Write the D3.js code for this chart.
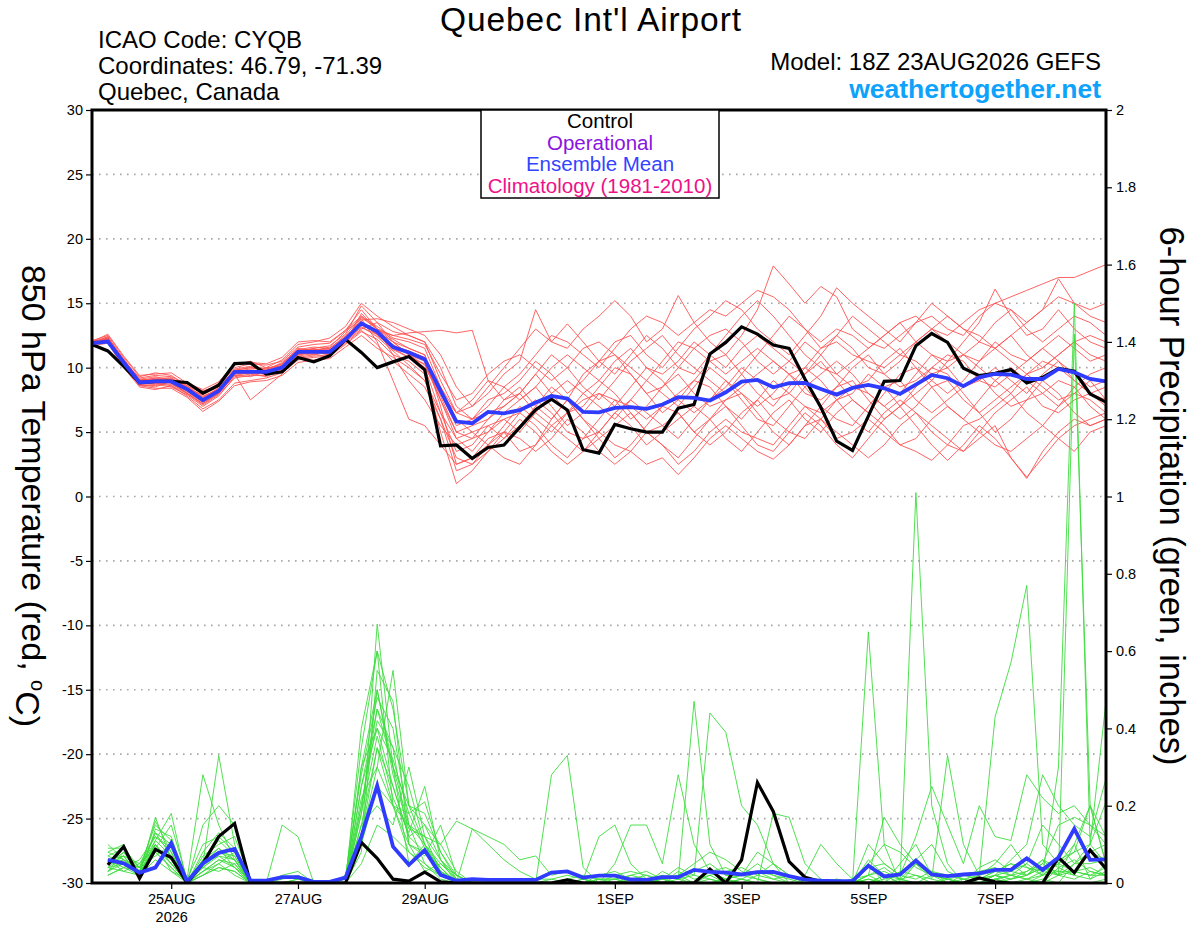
<!DOCTYPE html>
<html><head><meta charset="utf-8">
<script src="https://cdn.jsdelivr.net/npm/d3@7"></script>
<style>
body{margin:0;background:#fff}
svg{display:block}
text{font-family:"Liberation Sans",Arial,Helvetica,sans-serif}
</style>
</head><body>
<svg id="chart" width="1200" height="927"></svg>
<script>
// ---------------- DATA ----------------
const runStart = "2026-08-23T18:00:00Z";
const forecastHours = d3.range(0, 385, 6);          // 0..384 h, temperature times
const precipHours = d3.range(6, 385, 6);            // 6..384 h, 6-h precip accumulation ends

const tempTicks = [30,25,20,15,10,5,0,-5,-10,-15,-20,-25,-30];
const precipTicks = [0,0.2,0.4,0.6,0.8,1,1.2,1.4,1.6,1.8,2];
const gridValues = [25,20,15,10,5,0,-5,-10,-15,-20,-25];
const dateTicks = ["2026-08-25","2026-08-27","2026-08-29","2026-09-01","2026-09-03","2026-09-05","2026-09-07"];
const dateLabels = ["25AUG","27AUG","29AUG","1SEP","3SEP","5SEP","7SEP"];
const legendItems = ["Control","Operational","Ensemble Mean","Climatology (1981-2010)"];

const controlTemp = [11.8,11.3,10.1,8.85,8.93,8.93,8.85,8.02, 8.64,10.32,10.37,9.5,9.68,10.79,10.45,10.92,
 12.2,11.18,10.01,10.45,10.87,9.83,3.94,4.0, 2.96,3.81,4.0,5.36,6.73,7.56,6.71,3.63,
 3.37,5.59,5.26,5.0,5.0,6.86,7.14,11.06, 11.96,13.17,12.6,11.75,11.5,9.12,6.93,4.3,
 3.58,6.24,8.94,9.0,11.7,12.65,11.96,9.95, 9.38,9.56,9.85,8.82,9.25,9.95,9.72,7.96, 7.32];

const meanTemp = [11.9,12.03,10.4,8.85,8.93,8.93,8.33,7.48, 8.2,9.68,9.68,9.68,10.01,11.23,11.23,11.23,
 12.2,13.45,12.8,11.6,11.18,10.66,8.2,5.82, 5.69,6.57,6.46,6.7,7.29,7.81,7.6,6.57,
 6.53,6.88,6.93,6.8,7.14,7.71,7.66,7.45, 8.09,8.92,9.05,8.48,8.79,8.82,8.35,7.91,
 8.43,8.66,8.4,7.96,8.69,9.43,9.18,8.56, 9.25,9.51,9.46,9.12,9.12,9.9,9.64,9.12, 8.94];

const memberTemps = [
[12.0,12.4,10.6,9.0,9.2,8.8,8.0,7.2, 8.0,9.5,9.8,9.6,10.2,11.0,11.5,11.0, 12.0,14.2,13.0,12.5,12.7,12.8,12.9,12.7, 12.9,9.0,7.5,8.0,9.5,8.0,6.5,7.0, 8.5,10.0,9.5,8.0,6.5,7.5,9.0,10.5, 11.0,9.5,8.0,7.0,8.5,10.0,9.0,7.5, 8.0,9.5,8.5,7.0,8.0,9.0,10.5,11.0, 10.0,9.0,8.0,9.5,10.5,10.0,9.0,8.0, 7.5],
[11.8,12.2,10.2,8.7,8.5,9.0,8.5,7.8, 8.3,9.8,10.0,9.9,10.3,11.5,11.3,11.6, 12.8,13.8,12.0,9.0,6.0,5.5,4.0,2.5, 3.0,4.5,5.0,3.5,4.0,6.0,7.5,6.0, 4.5,3.0,4.0,5.5,7.0,6.5,5.0,6.0, 7.5,8.0,6.5,5.0,4.0,5.5,7.0,8.5, 9.0,7.5,6.0,7.0,8.5,10.0,9.5,8.0, 6.5,5.0,6.0,7.5,8.0,9.0,8.5,7.0, 6.0],
[12.1,12.5,10.8,9.3,9.6,9.4,8.6,8.0, 8.8,10.2,10.5,10.0,10.6,11.8,12.0,12.3, 13.2,15.0,14.0,13.2,12.5,12.0,9.0,6.5, 7.0,8.5,10.0,11.5,13.0,12.0,11.5,13.0, 14.0,15.2,14.0,12.0,13.0,15.6,13.5,12.0, 11.0,12.5,14.5,17.9,16.5,15.0,16.3,15.5, 13.0,12.0,11.5,12.5,13.5,14.0,13.0,12.5, 14.0,15.0,14.5,13.5,14.5,15.5,15.0,14.5, 15.0],
[11.7,11.9,10.0,8.5,8.3,8.6,7.8,6.8, 7.5,8.8,9.0,9.2,9.6,10.6,10.8,10.9, 11.8,12.8,12.2,11.0,10.5,9.5,5.0,1.0, 2.0,3.5,5.0,6.5,5.5,4.0,3.0,4.5, 5.0,4.0,3.5,2.5,3.0,1.7,3.0,4.5, 5.5,4.5,3.5,2.9,4.0,5.5,6.0,5.0, 4.0,3.0,4.0,5.5,6.5,5.0,4.0,3.5, 4.5,5.5,3.0,1.5,3.0,4.5,5.5,6.0, 6.5],
[12.0,12.2,10.5,8.9,9.0,9.1,8.3,7.5, 8.1,9.6,9.6,9.5,9.9,11.0,11.2,11.0, 12.0,13.0,13.5,12.0,11.0,10.5,7.5,5.0, 5.5,6.0,7.5,8.5,7.0,6.0,7.5,9.5, 10.5,11.0,9.5,8.0,8.5,10.0,11.5,12.5, 13.0,12.0,10.5,9.5,10.5,12.0,11.0,9.5, 8.5,9.0,10.5,11.5,10.0,9.0,8.0,9.0, 10.5,11.5,12.5,11.0,10.0,11.0,12.0,11.0, 10.5],
[11.9,12.1,10.3,8.8,8.8,8.7,8.1,7.3, 8.0,9.4,9.3,9.7,10.1,11.3,11.0,11.3, 12.4,13.6,12.5,11.5,10.8,10.0,6.5,3.5, 4.0,5.5,6.0,5.0,6.5,8.0,9.0,8.0, 7.0,6.0,7.5,9.0,8.0,7.0,8.5,10.0, 9.0,7.5,6.0,5.5,7.0,8.5,9.5,10.5, 9.5,8.0,7.0,8.0,9.5,11.0,10.0,8.5, 9.0,10.0,9.0,8.0,9.5,10.5,9.5,8.5, 9.0],
[11.8,12.3,10.4,9.1,9.3,9.0,8.4,7.7, 8.4,9.9,10.1,9.8,10.4,11.4,11.6,11.5, 12.5,14.0,13.2,12.3,12.0,11.5,8.5,6.0, 5.0,4.0,5.5,7.0,6.0,5.0,6.5,8.0, 9.0,8.0,6.5,5.0,5.5,6.5,5.0,4.0, 5.0,6.5,7.5,6.0,5.0,4.5,6.0,7.5, 6.0,5.0,6.5,7.5,6.5,5.5,4.5,3.5, 5.0,6.5,7.5,8.5,7.0,6.5,7.5,8.0, 7.0],
[12.0,12.0,10.6,9.2,9.4,9.3,8.7,8.2, 8.6,10.0,10.3,10.2,10.5,11.6,11.8,11.9, 12.9,14.5,13.0,11.0,9.0,7.5,5.5,4.0, 4.5,6.0,7.0,8.0,9.5,11.0,10.0,8.5, 7.5,9.0,10.5,11.5,12.5,11.0,10.0,9.0, 8.0,9.5,11.0,12.5,14.0,13.0,11.5,12.5, 14.0,13.0,12.0,11.0,12.0,13.0,14.0,13.0, 12.0,13.5,14.5,13.0,12.0,13.0,14.0,13.5, 12.5],
[11.9,12.2,10.1,8.6,8.7,8.5,7.9,7.0, 7.8,9.3,9.5,9.3,9.8,10.9,11.1,11.2, 12.1,13.3,12.8,12.0,11.5,11.0,7.0,2.5, 3.0,4.0,3.0,2.5,4.0,5.5,4.5,3.5, 5.0,6.5,5.5,4.0,5.0,6.0,7.0,6.0, 4.5,3.5,5.0,6.5,7.5,6.0,5.0,6.5, 7.5,6.5,5.5,4.0,3.5,2.8,4.0,5.5, 6.0,7.0,8.0,6.5,5.5,7.0,8.0,7.5, 6.5],
[12.0,12.3,10.7,9.0,9.1,9.2,8.5,7.6, 8.3,9.7,9.9,10.0,10.1,11.1,11.4,11.4, 12.3,13.7,13.8,13.5,13.0,12.5,11.0,8.5, 7.0,8.0,9.5,10.5,14.5,12.0,13.4,12.0, 10.5,9.5,11.0,12.5,11.5,10.0,9.5,11.0, 12.5,14.0,15.2,14.0,12.5,11.0,10.0,9.5, 10.5,11.5,12.5,13.5,12.0,11.0,10.5,12.0, 13.5,16.1,14.0,12.5,13.0,14.5,13.0,12.0, 11.5],
[11.8,12.1,10.4,8.8,8.9,8.8,8.2,7.4, 8.1,9.5,7.5,8.5,9.5,10.8,11.0,11.2, 12.2,13.1,12.6,11.8,11.0,10.2,7.5,4.5, 3.5,5.0,6.5,7.5,8.5,7.0,5.5,6.5, 8.0,7.0,8.5,10.0,9.0,7.5,6.5,7.5, 8.5,10.0,9.0,7.5,8.0,9.5,10.5,9.0, 7.5,6.5,8.0,9.5,10.0,8.5,7.0,6.0, 7.5,9.0,10.0,9.0,8.0,7.0,8.5,9.5, 10.0],
[12.1,12.0,10.3,8.9,9.2,9.2,8.4,7.9, 8.5,9.8,10.0,9.9,10.3,11.3,11.5,11.7, 12.6,14.8,13.5,12.8,12.5,12.0,10.0,7.0, 6.0,7.5,8.0,9.0,10.5,9.5,8.0,9.0, 10.5,12.0,12.5,11.0,10.0,11.5,13.0,14.0, 15.2,14.5,13.0,12.0,11.0,12.5,14.0,16.2, 15.0,14.0,13.0,12.0,13.5,15.0,14.0,13.0, 12.5,11.5,12.5,13.5,14.5,16.9,15.0,14.0, 13.5],
[11.9,12.4,10.5,8.7,8.6,8.9,8.0,7.1, 7.9,9.2,9.4,9.4,9.7,10.7,10.9,11.0, 11.9,12.9,11.8,10.5,9.5,8.5,6.0,3.0, 2.5,3.5,4.5,6.0,5.0,3.5,2.5,3.5, 4.5,5.5,6.5,5.0,4.0,3.0,4.5,6.0, 7.0,5.5,4.0,3.5,5.0,6.5,5.5,4.0, 3.0,4.5,6.0,7.0,5.5,4.0,2.8,4.0, 5.5,4.5,3.0,1.4,3.5,5.0,6.0,5.5, 6.0],
[12.0,12.6,10.9,9.4,9.5,9.6,8.8,8.3, 8.9,10.3,10.4,10.3,10.8,12.0,12.1,12.0, 12.9,14.0,13.0,12.0,11.0,10.0,8.0,6.5, 7.5,9.0,8.5,7.5,8.5,10.0,11.0,10.0, 9.0,10.5,11.5,10.0,9.5,10.5,12.0,11.0, 10.0,11.5,12.5,11.5,10.5,9.5,11.0,12.5, 11.5,10.0,9.5,10.5,12.0,13.0,12.0,11.0, 10.5,12.0,11.0,10.5,11.5,12.5,11.5,10.5, 11.0],
[11.8,12.0,10.2,8.6,8.4,8.4,7.7,6.6, 7.4,8.6,8.9,9.0,9.4,10.4,10.6,10.7, 11.6,12.5,11.5,10.8,10.0,9.0,6.5,4.5, 5.0,5.5,4.5,5.5,7.0,8.5,7.5,6.0, 5.0,6.5,7.5,6.5,5.5,4.5,6.0,7.5, 9.0,8.0,7.0,8.0,9.5,8.5,7.0,6.0, 5.5,7.0,8.5,9.0,7.5,6.5,7.5,8.5, 9.5,8.0,7.0,7.5,9.0,8.0,6.5,5.5, 6.0],
[12.0,12.2,10.6,9.1,9.0,9.1,8.6,7.7, 8.4,9.6,9.8,9.8,10.2,11.4,11.4,11.5, 12.4,13.5,12.9,12.5,12.2,11.8,9.5,7.5, 8.0,9.5,10.5,11.0,10.0,9.0,10.0,11.5, 12.0,11.0,10.0,9.0,10.5,12.0,11.5,10.5, 9.5,10.5,11.5,10.5,9.5,10.0,11.5,12.0, 11.0,10.5,10.0,11.0,10.5,9.5,10.0,11.0, 12.0,11.5,10.5,9.5,10.0,11.0,12.0,12.5, 12.0],
[11.9,12.3,10.5,9.0,8.9,9.0,8.2,7.4, 8.2,9.6,9.6,9.6,10.0,11.2,11.3,11.2, 12.2,13.9,13.0,12.2,11.5,11.0,8.0,5.5, 6.0,7.0,8.5,9.5,11.0,12.5,12.0,11.0, 10.0,11.5,13.0,14.0,13.5,12.5,13.5,14.5, 14.0,15.0,16.0,15.5,14.5,13.0,12.0,13.0, 12.5,11.5,12.5,13.5,14.0,13.0,12.5,13.5, 14.5,15.0,15.5,16.0,16.5,17.0,17.0,17.5, 18.0],
[11.8,12.1,10.3,8.8,8.8,8.6,8.0,7.2, 8.0,9.4,9.6,9.5,10.0,11.0,11.2,11.1, 12.0,13.2,12.4,11.3,10.2,9.0,6.0,2.0, 2.5,4.0,5.0,4.5,3.5,4.5,6.0,5.0, 3.5,2.5,3.5,5.0,4.0,2.5,3.5,5.0, 6.0,5.0,4.5,4.0,5.5,7.0,6.0,4.5, 5.0,6.0,5.0,4.0,4.5,6.0,7.0,6.0, 5.0,4.0,3.5,4.5,5.5,4.5,3.5,5.0, 5.5],
[12.0,12.2,10.5,8.9,9.1,8.9,8.3,7.6, 8.2,9.7,9.7,9.7,10.1,11.1,11.3,11.3, 12.3,13.5,12.7,11.7,11.3,10.8,8.5,6.5, 6.0,6.5,7.0,8.0,6.5,5.5,6.5,7.5, 8.0,7.5,6.0,7.0,8.5,9.5,8.0,7.0, 7.5,8.5,9.5,10.5,9.5,8.0,7.5,8.5, 10.0,11.0,9.5,8.5,9.0,10.0,11.0,10.5, 9.0,8.5,9.5,10.5,11.5,10.5,9.0,8.0, 8.5],
[11.9,12.1,10.4,8.8,8.8,9.0,8.4,7.5, 8.1,9.5,9.6,9.7,10.0,11.1,11.2,11.3, 12.2,13.4,12.6,11.4,10.8,10.3,7.8,5.0, 4.5,5.0,6.0,6.5,7.5,6.5,5.0,4.5, 6.0,7.5,7.0,6.0,7.0,8.0,9.0,8.5, 7.0,6.0,7.5,9.0,8.0,7.0,6.5,7.5, 8.5,8.0,7.0,6.0,7.0,8.5,9.0,7.5, 6.5,7.5,8.5,9.5,8.5,7.5,8.0,9.0, 7.5]
];

const controlPrecip = [.047,.094,.012,.087,.066,0,.05,.12, .154,0,0,0,0,0,0,0,
 .105,.064,.01,.005,.028,.003,0,0, 0,0,0,0,0,.008,0,0, 0,0,0,0,0,0,.036,0,
 .06,.26,.185,.055,.015,.004,0,0, 0,0,0,0,0,0,0,.013, .003,0,0,0,.066,.027,.085,.037];

const meanPrecip = [.06,.051,.027,.04,.103,.003,.051,.078, .088,.006,.006,.015,.015,.003,.003,.014,
 .12,.252,.094,.047,.085,.021,.006,.01, .008,.008,.008,.008,.027,.03,.014,.019,
 .019,.009,.008,.015,.015,.034,.029,.027, .022,.028,.029,.018,.009,.006,.005,.005,
 .045,.017,.022,.058,.022,.018,.022,.025, .034,.034,.064,.034,.066,.14,.06,.061];

const memberPrecip = [
[.05,.08,.02,.17,.06,0,.02,.05, .08,0,0,0,.01,0,0,0, .10,.67,.30,.05,.10,.02,0,0, 0,0,0,0,.01,0,0,.01, 0,0,0,0,.02,0,.03,.01, 0,0,0,0,0,0,0,0, .02,0,0,0,0,.01,0,0, .02,0,0,.01,0,.05,.10,.21],
[.10,.06,.04,.10,.03,.01,.28,.15, .06,0,0,.01,.02,0,0,.01, .35,.60,.20,.08,.05,.01,0,.14, .10,.06,.03,.01,.01,.02,.01,.12, .15,.05,.01,0,0,.03,.05,.02, .01,0,0,0,0,0,0,0, .65,.10,0,0,0,0,0,0, 0,0,0,.02,.30,1.50,.10,.05],
[.02,.04,.06,.12,.09,0,.05,.33, .10,0,0,.15,.12,0,0,0, .08,.55,.47,.10,.03,.05,.01,0, 0,0,0,0,.28,.33,.04,0, 0,0,0,.01,.02,.05,.08,.06, .03,.01,0,0,0,0,0,0, 0,0,0,1.01,.20,.05,0,.01, .03,.05,.04,.02,.06,.08,.10,.47],
[.08,.10,.01,.14,.12,0,.07,.10, .12,.01,0,0,0,0,0,0, .25,.45,.30,.20,.15,.06,.02,0, 0,0,0,0,0,.01,0,0, .01,0,0,.03,.01,.47,.10,.02, .02,.05,.02,0,0,0,0,.01, .05,.10,.08,.04,.02,0,0,.01, .02,.06,.10,.28,.20,.15,.12,.27],
[.03,.05,.03,.08,.04,0,.03,.06, .04,0,0,0,0,0,0,0, .30,.40,.25,.12,.08,.03,0,0, 0,0,0,0,0,0,.01,0, 0,.02,.01,0,.01,.02,.44,.39, .20,.15,.05,.02,0,0,0,0, 0,.02,0,.05,.01,.33,.10,.02, .43,.57,.77,.10,.05,.08,.20,.05],
[.06,.03,.05,.09,.15,.01,.10,.12, .08,0,0,.02,.03,0,0,0, .15,.35,.20,.15,.10,.04,0,0, 0,0,0,0,0,0,0,.02, .03,.01,0,0,0,0,0,.01, .02,.03,.01,.02,.01,0,0,0, 0,.01,.02,.06,.10,.03,.01,0, .01,.02,.03,.05,.02,.01,.03,.02],
[.04,.07,.02,.11,.18,0,.15,.20, .15,0,0,0,0,0,0,.01, .12,.30,.55,.20,.18,.08,.02,0, 0,0,0,0,0,0,0,0, 0,0,0,.01,0,0,0,0, .01,0,.18,.17,.05,.01,0,0, .02,.17,.10,.05,.03,0,0,0, .02,.01,.03,.06,.02,.10,.01,.03],
[.07,.05,.03,.13,.07,0,.04,.03, .05,0,0,0,0,0,0,0, .20,.45,.35,.25,.10,.05,.02,0, 0,0,0,0,0,0,.01,0, 0,0,0,0,0,0,0,0, 0,.02,.05,.02,0,0,0,0, .05,0,.01,.02,.01,0,0,0, 0,.01,.02,.05,.15,.17,.15,.10],
[.09,.09,.04,.07,.10,0,.05,.09, .04,.01,0,0,0,0,0,0, .18,.50,.30,.15,.12,.10,.16,.14, .12,.10,.06,.07,.02,.03,.01,0, 0,0,0,0,0,0,0,0, 0,0,0,0,.02,.10,.05,.01, 0,0,0,0,0,0,0,0, .01,0,0,0,.04,.06,.03,.02],
[.05,.06,.02,.10,.05,0,.02,.04, .03,0,0,0,0,0,0,0, .40,.60,.45,.20,.10,.03,0,0, 0,0,0,0,0,.01,0,0, .05,.15,.15,.05,.28,.10,.03,.01, 0,0,0,0,0,0,0,0, .02,.03,.01,0,0,0,0,.01, .02,.03,.05,.15,.10,.05,.08,.10],
[.04,.03,.02,.06,.03,0,.05,.08, .06,0,0,0,0,0,0,0, .22,.30,.20,.18,.21,.08,.01,0, 0,0,0,0,0,0,0,0, 0,0,0,0,0,0,0,0, 0,0,0,0,0,0,.01,0, .01,0,.05,.10,.02,.01,0,.02, .05,.10,.04,.03,.02,.05,.05,.06],
[.06,.07,.05,.12,.08,0,.04,.07, .06,0,0,0,0,0,0,0, .10,.25,.20,.10,.07,.15,.02,0, 0,0,0,0,0,0,0,0, 0,0,0,0,0,0,.02,.03, .04,.02,.01,0,0,.01,0,0, 0,0,0,0,0,0,0,0, .01,0,.01,0,.02,1.42,.20,.05],
[.03,.08,.04,.15,.11,0,.06,.11, .07,0,0,0,.01,0,0,.02, .28,.48,.40,.15,.05,.02,0,0, 0,0,0,0,0,0,0,0, 0,.01,.02,0,0,0,.01,0, 0,0,0,0,0,0,0,0, .10,.05,.02,.12,.25,.15,.05,.20, .12,.11,.28,.22,.18,.20,.15,.12],
[.02,.04,.03,.09,.06,0,.03,.05, .02,0,0,0,0,0,0,0, .15,.20,.15,.30,.12,.06,0,0, 0,0,0,0,0,0,0,0, 0,0,.01,.02,.01,0,0,.01, .02,.01,0,0,0,0,.01,0, 0,0,0,0,0,0,.01,.02, .03,.02,.01,.03,.05,.03,.02,.04],
[.05,.07,.01,.08,.04,0,.02,.04, .03,0,0,0,0,0,0,0, .05,.15,.12,.08,.04,.02,0,0, 0,0,0,0,0,.01,0,0, .02,.03,.02,.01,.04,.02,.01,0, 0,0,0,0,0,0,0,0, .04,.05,.02,.01,.03,.02,.01,0, .02,.01,.02,.04,.03,.02,.01,.05],
[.07,.09,.03,.16,.08,0,.08,.13, .09,0,0,0,0,0,0,0, .20,.42,.35,.10,.08,.04,0,0, 0,0,0,0,0,0,0,.01, .01,0,0,0,0,0,0,0, 0,0,0,0,0,0,0,.01, .02,.04,.01,0,.02,.01,0,0, .01,.02,.05,.02,.05,.10,.20,.12],
[.04,.05,.04,.11,.07,0,.03,.06, .05,0,0,0,0,0,0,0, .12,.35,.25,.12,.15,.10,.03,0, 0,0,0,0,0,0,0,0, 0,0,0,0,0,0,0,0, 0,0,0,0,0,0,0,0, 0,0,0,0,0,0,0,0, 0,0,0,0,0,0,0,.01],
[.06,.04,.02,.10,.05,.01,.04,.08, .07,0,0,0,0,0,0,0, .30,.50,.28,.14,.12,.03,.01,0, 0,0,0,0,0,0,0,0, 0,0,0,0,0,0,.03,.04, .02,.08,.05,0,0,0,0,0, .06,.02,0,0,0,0,0,.04, .06,.03,.02,.06,.04,.02,.08,.06],
[.03,.06,.02,.09,.05,0,.06,.09, .06,0,0,0,0,0,0,0, .25,.40,.32,.18,.09,.04,0,0, 0,0,0,0,0,.01,.02,.01, .01,.02,.03,.01,0,0,0,0, 0,0,0,0,0,0,0,0, 0,.02,.01,.05,.02,.01,.02,.03, .04,.02,.01,.02,.03,.03,.02,.02],
[.08,.06,.03,.13,.10,0,.05,.07, .04,0,0,0,0,0,0,0, .18,.38,.22,.13,.25,.06,.01,0, 0,0,0,0,0,0,0,0, 0,0,0,0,.03,.01,.02,0, .01,.03,.02,.01,0,0,0,0, .01,0,.03,.02,0,0,.02,.01, .03,.05,.02,.04,.02,.03,.04,.02]
];

// ---------------- CHART ----------------
const svg = d3.select("#chart");
const plot = {left: 92, right: 1106, top: 110, bottom: 883};
const t0 = new Date(runStart);
const hourToDate = h => new Date(t0.getTime() + h * 3600e3);

const x = d3.scaleUtc().domain([hourToDate(0), hourToDate(384)]).range([plot.left, plot.right]);
const yT = d3.scaleLinear().domain([-30, 30]).range([plot.bottom, plot.top]);
const yP = d3.scaleLinear().domain([0, 2]).range([plot.bottom, plot.top]);

svg.append("rect").attr("width", 1200).attr("height", 927).attr("fill", "#fff");

svg.append("defs").append("clipPath").attr("id", "clip")
  .append("rect").attr("x", plot.left).attr("y", plot.top)
  .attr("width", plot.right - plot.left).attr("height", plot.bottom - plot.top);

// grid
svg.append("g").selectAll("line").data(gridValues).join("line")
  .attr("x1", plot.left).attr("x2", plot.right)
  .attr("y1", d => yT(d)).attr("y2", d => yT(d))
  .attr("stroke", "#a8a8a8").attr("stroke-width", 1.6).attr("stroke-dasharray", "1.6,5.4");

const lines = svg.append("g").attr("clip-path", "url(#clip)");
const tempLine = d3.line().x((d, i) => x(hourToDate(forecastHours[i]))).y(d => yT(d));
const precLine = d3.line().x((d, i) => x(hourToDate(precipHours[i]))).y(d => yP(d));

lines.selectAll(".mt").data(memberTemps).join("path").attr("class", "mt")
  .attr("d", tempLine).attr("fill", "none").attr("stroke", "#ff5252").attr("stroke-width", 0.9);
lines.selectAll(".mp").data(memberPrecip).join("path").attr("class", "mp")
  .attr("d", precLine).attr("fill", "none").attr("stroke", "#3ddc3d").attr("stroke-width", 0.9);

lines.append("path").datum(controlTemp).attr("d", tempLine).attr("fill", "none")
  .attr("stroke", "#000").attr("stroke-width", 3.2).attr("stroke-linejoin", "miter");
lines.append("path").datum(controlPrecip).attr("d", precLine).attr("fill", "none")
  .attr("stroke", "#000").attr("stroke-width", 3.2);
lines.append("path").datum(meanTemp).attr("d", tempLine).attr("fill", "none")
  .attr("stroke", "#2f3cff").attr("stroke-width", 3.8);
lines.append("path").datum(meanPrecip).attr("d", precLine).attr("fill", "none")
  .attr("stroke", "#2f3cff").attr("stroke-width", 3.8);

// axes
const fmt = d => String(d);
const axL = svg.append("g").attr("transform", `translate(${plot.left},0)`)
  .call(d3.axisLeft(yT).tickValues(tempTicks).tickFormat(fmt).tickSize(6).tickSizeOuter(0).tickPadding(3));
const axR = svg.append("g").attr("transform", `translate(${plot.right},0)`)
  .call(d3.axisRight(yP).tickValues(precipTicks).tickFormat(fmt).tickSize(6).tickSizeOuter(0).tickPadding(4));
const axB = svg.append("g").attr("transform", `translate(0,${plot.bottom})`)
  .call(d3.axisBottom(x).tickValues(dateTicks.map(d => new Date(d + "T00:00:00Z")))
    .tickFormat((d, i) => dateLabels[i]).tickSize(6).tickSizeOuter(0).tickPadding(5));
[axL, axR, axB].forEach(a => {
  a.select(".domain").remove();
  a.selectAll(".tick line").attr("stroke", "#000").attr("stroke-width", 1.2);
  a.selectAll(".tick text").attr("fill", "#000").style("font-size", "14.5px")
    .style("font-family", '"Liberation Sans",Arial,sans-serif');
});
axB.select(".tick text").append("tspan").attr("x", 0).attr("dy", "1.2em").text("2026");

// frame
svg.append("rect").attr("x", plot.left).attr("y", plot.top)
  .attr("width", plot.right - plot.left).attr("height", plot.bottom - plot.top)
  .attr("fill", "none").attr("stroke", "#000").attr("stroke-width", 3);

// legend
const lg = svg.append("g");
lg.append("rect").attr("x", 481).attr("y", plot.top).attr("width", 238).attr("height", 88)
  .attr("fill", "#fff").attr("stroke", "#000").attr("stroke-width", 1.5);
const legendColors = ["#000000", "#8a14e0", "#3344ff", "#ee1188"];
lg.selectAll("text").data(legendItems).join("text")
  .attr("x", 600).attr("y", (d, i) => 128 + i * 21.5).attr("text-anchor", "middle")
  .attr("fill", (d, i) => legendColors[i]).style("font-size", "20.5px").text(d => d);

// titles
svg.append("text").attr("x", 591).attr("y", 31).attr("text-anchor", "middle")
  .style("font-size", "33.5px").style("letter-spacing", "0.9px").text("Quebec Int'l Airport");
const info = ["ICAO Code: CYQB", "Coordinates: 46.79, -71.39", "Quebec, Canada"];
svg.selectAll(".info").data(info).join("text").attr("class", "info")
  .attr("x", 98).attr("y", (d, i) => 48 + i * 26).style("font-size", "24px").text(d => d);
svg.append("text").attr("x", 1101).attr("y", 70).attr("text-anchor", "end")
  .style("font-size", "24px").text("Model: 18Z 23AUG2026 GEFS");
svg.append("text").attr("x", 1101).attr("y", 98).attr("text-anchor", "end")
  .style("font-size", "26.5px").style("font-weight", "bold").attr("fill", "#0ea2fb")
  .text("weathertogether.net");

// axis titles
const lt = svg.append("text").attr("transform", "translate(34,496) rotate(90)")
  .attr("text-anchor", "middle").attr("dy", "0.35em").style("font-size", "34px");
lt.append("tspan").text("850 hPa Temperature (red, ");
lt.append("tspan").attr("dy", "-0.45em").style("font-size", "20px").text("o");
lt.append("tspan").attr("dy", "0.45em").text("C)");
svg.append("text").attr("transform", "translate(1172,496) rotate(90)")
  .attr("text-anchor", "middle").attr("dy", "0.35em").style("font-size", "34.5px")
  .text("6-hour Precipitation (green, inches)");
</script>
</body></html>
